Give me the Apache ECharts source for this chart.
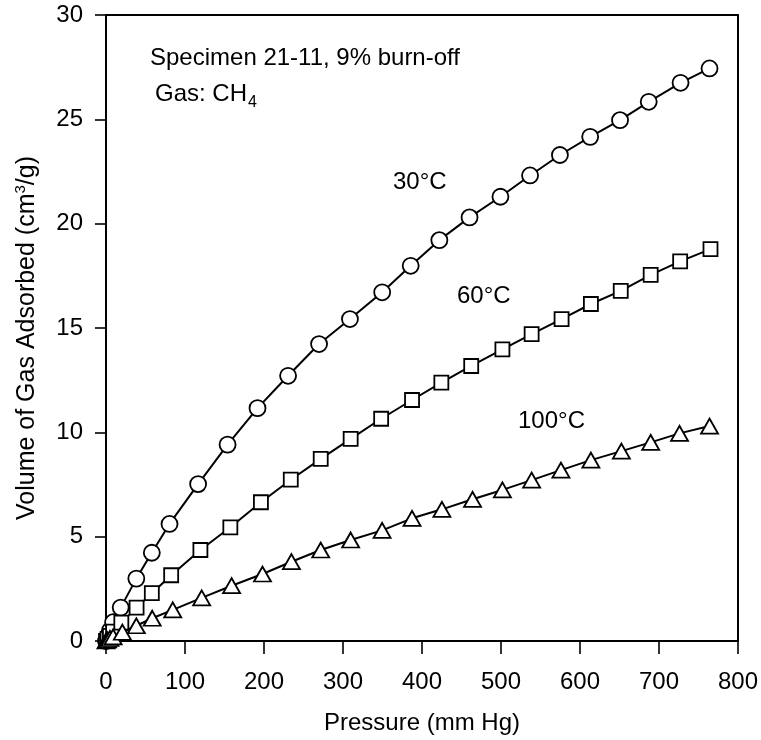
<!DOCTYPE html>
<html>
<head>
<meta charset="utf-8">
<script src="https://cdn.jsdelivr.net/npm/echarts@6/dist/echarts.min.js"></script>
<style>html,body{margin:0;padding:0;background:#fff;}#c{width:761px;height:740px;}</style>
</head>
<body>
<div id="c"></div>
<script>
// Data
const p30 = [0, 2, 5, 9, 18.6, 38.4, 58, 80.4, 116.6, 153.9, 191.8, 230.5, 269.7, 308.8, 349.6, 385.7, 422, 460.2, 499.3, 536.8, 574.6, 612.9, 650.7, 687, 727.3, 764];
const v30 = [0, 0.2, 0.5, 0.9, 1.6, 2.99, 4.23, 5.61, 7.52, 9.41, 11.16, 12.71, 14.23, 15.43, 16.71, 17.98, 19.21, 20.3, 21.29, 22.31, 23.29, 24.16, 24.96, 25.84, 26.75, 27.44];
const p60 = [0, 2, 5, 9, 19.4, 38.7, 58, 82.5, 119.5, 157.4, 196.1, 233.9, 271.8, 309.7, 348.3, 387.4, 424.5, 462.3, 501.8, 538.8, 576.7, 613.8, 651.6, 689.5, 726.8, 765.2];
const v60 = [0, 0.1, 0.25, 0.45, 0.88, 1.6, 2.29, 3.15, 4.36, 5.45, 6.65, 7.73, 8.73, 9.69, 10.65, 11.55, 12.38, 13.18, 13.98, 14.71, 15.43, 16.15, 16.78, 17.55, 18.19, 18.78];
const p100 = [0, 2, 5, 9, 20.7, 38.4, 58.5, 84.5, 121.1, 159, 198.1, 234.7, 271.8, 309.7, 349.5, 387.4, 425.2, 464, 501.8, 538.8, 575.9, 613.8, 652.4, 689.5, 726, 764];
const v100 = [0, 0.05, 0.12, 0.2, 0.42, 0.73, 1.09, 1.49, 2.07, 2.65, 3.21, 3.8, 4.36, 4.84, 5.3, 5.88, 6.31, 6.79, 7.24, 7.71, 8.19, 8.67, 9.1, 9.52, 9.95, 10.3];
const xTicks = [0, 100, 200, 300, 400, 500, 600, 700, 800];
const yTicks = [0, 5, 10, 15, 20, 25, 30];
const seriesNames = ['30°C', '60°C', '100°C'];
const labelTexts = ['Specimen 21-11, 9% burn-off', 'Gas: CH', '4'];
const xTitle = 'Pressure (mm Hg)';
const yTitle = ['Volume of Gas Adsorbed (cm', '3', '/g)'];

const FONT = 'Liberation Sans, Arial, Helvetica, sans-serif';
const zip = (a, b) => a.map((x, i) => [x, b[i]]);

function series(name, xs, ys, symbol, size) {
  return {
    name: name,
    type: 'line',
    data: zip(xs, ys),
    symbol: symbol,
    symbolSize: size,
    showAllSymbol: true,
    lineStyle: { color: '#000', width: 2 },
    itemStyle: { color: '#fff', borderColor: '#000', borderWidth: 1.8 },
    z: 3,
    animation: false
  };
}

const chart = echarts.init(document.getElementById('c'), null, { renderer: 'canvas' });
const axisCommon = {
  axisLine: { show: true, onZero: false, lineStyle: { color: '#000', width: 2 } },
  splitLine: { show: false },
  axisLabel: { color: '#000', fontFamily: FONT, fontSize: 24 },
  nameTextStyle: { color: '#000', fontFamily: FONT, fontSize: 24 }
};
const txt = (x, y, text, size, extra) => ({
  type: 'text', x: x, y: y,
  style: Object.assign({ text: text, font: size + 'px ' + FONT, fill: '#000', verticalAlign: 'middle' }, extra || {})
});
chart.setOption({
  animation: false,
  backgroundColor: '#fff',
  grid: { left: 106, right: 21, top: 15, bottom: 99 },
  xAxis: [
    Object.assign({}, axisCommon, {
      type: 'value', min: xTicks[0], max: xTicks[xTicks.length - 1], interval: 100,
      position: 'bottom',
      axisTick: { show: true, inside: false, length: 13, lineStyle: { color: '#000', width: 1.6 } },
      axisLabel: Object.assign({}, axisCommon.axisLabel, { margin: 29 }),
      name: xTitle, nameLocation: 'middle', nameGap: 70
    }),
    Object.assign({}, axisCommon, {
      type: 'value', min: 0, max: 800, interval: 100, position: 'top',
      axisTick: { show: false }, axisLabel: { show: false }
    })
  ],
  yAxis: [
    Object.assign({}, axisCommon, {
      type: 'value', min: yTicks[0], max: yTicks[yTicks.length - 1], interval: 5,
      position: 'left',
      axisTick: { show: true, inside: false, length: 11, lineStyle: { color: '#000', width: 1.6 } },
      axisLabel: Object.assign({}, axisCommon.axisLabel, { margin: 23 })
    }),
    Object.assign({}, axisCommon, {
      type: 'value', min: 0, max: 30, interval: 5, position: 'right',
      axisTick: { show: false }, axisLabel: { show: false }
    })
  ],
  series: [
    series(seriesNames[0], p30, v30, 'circle', 16),
    series(seriesNames[1], p60, v60, 'rect', 14),
    series(seriesNames[2], p100, v100, 'triangle', [17, 15])
  ],
  graphic: [
    txt(150, 58, labelTexts[0], 24),
    txt(155, 94, '{a|' + labelTexts[1] + '}{s|' + labelTexts[2] + '}', 24, {
      rich: { a: { fontSize: 24, fontFamily: FONT, fill: '#000' }, s: { fontSize: 16, fontFamily: FONT, fill: '#000', padding: [18, 0, 0, 1] } } }),
    txt(393, 182, seriesNames[0], 24),
    txt(457, 296, seriesNames[1], 24),
    txt(518, 421, seriesNames[2], 24),
    {
      type: 'text', x: 27, y: 338, rotation: Math.PI / 2,
      style: {
        text: '{a|' + yTitle[0] + '}{s|' + yTitle[1] + '}{a|' + yTitle[2] + '}',
        align: 'center', verticalAlign: 'middle', fill: '#000',
        font: '25px ' + FONT,
        rich: { a: { fontSize: 25, fontFamily: FONT, fill: '#000' }, s: { fontSize: 15, fontFamily: FONT, fill: '#000', padding: [0, 0, 12, 0] } }
      }
    }
  ]
});
</script>
</body>
</html>
